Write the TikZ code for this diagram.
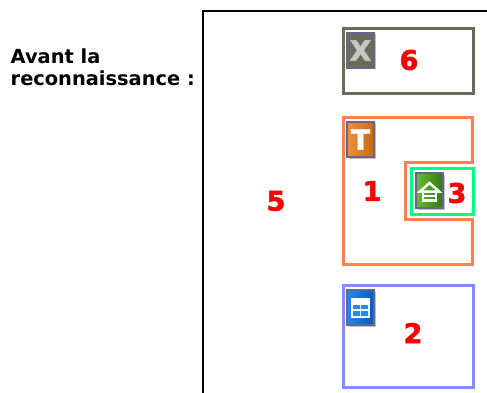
\documentclass[tikz,border=0pt]{standalone}
\usepackage{fontspec}
\setmainfont{DejaVu Sans}
\newfontfamily\grasfont[FakeBold=2]{DejaVu Sans Bold}
\usetikzlibrary{shadows}

\definecolor{cadre}{HTML}{6B6B5B}
\definecolor{corail}{HTML}{FF7F50}
\definecolor{printemps}{HTML}{00FF7F}
\definecolor{lavande}{HTML}{8888FF}
\definecolor{ardoise}{HTML}{66668C}
\definecolor{orangeA}{HTML}{EC9040}
\definecolor{orangeB}{HTML}{C86A14}
\definecolor{vertA}{HTML}{68BC30}
\definecolor{vertB}{HTML}{2F7A12}
\definecolor{bleuA}{HTML}{1E8CF0}
\definecolor{bleuB}{HTML}{0B58BC}

\tikzstyle{numero}=[text=red, font=\grasfont\fontsize{27}{27}\selectfont, inner sep=0pt]
\tikzstyle{zone}=[draw, line width=3pt, minimum width=130pt, inner sep=0pt, outer sep=0pt, anchor=north west]
\tikzstyle{icone}=[draw=ardoise, line width=1.5pt, minimum width=27pt, minimum height=35pt, inner sep=0pt, outer sep=0pt, anchor=north west, text=white, font=\grasfont\fontsize{28}{28}\selectfont, drop shadow={shadow xshift=1.5pt, shadow yshift=-1.5pt, fill=gray, opacity=0.5}]

\begin{document}
\begin{tikzpicture}[x=1pt, y=-1pt]
\useasboundingbox (0,0) rectangle (487,393);

% cadre de la page
\draw[line width=2pt] (487,11.5) -- (202.5,11.5) -- (202.5,393);

\node(titre)[anchor=north west, align=left, inner sep=0pt, font=\bfseries\fontsize{19.4}{21.2}\selectfont] at (10.5,49) {Avant la\\reconnaissance :};

% zones
\node(zone6)[zone, draw=cadre, minimum height=65pt] at (343.5,28.5) {};
\node(zone2)[zone, draw=lavande, minimum height=102pt] at (343.5,285.5) {};
\draw[corail, line width=3pt] (343.5,117.5) -- (472.5,117.5) -- (472.5,162.5) -- (405.5,162.5) -- (405.5,219.5) -- (472.5,219.5) -- (472.5,264.5) -- (343.5,264.5) -- cycle;
\node(zone3)[zone, draw=printemps, minimum width=62pt, minimum height=46pt] at (411.5,168.5) {};

% icones
\node(iconeX)[icone, text=white!55!gray, fill=cadre] at (347,33) {X};
\node(iconeT)[icone, left color=orangeA, right color=orangeB] at (347,122) {T};
\node(iconeH)[icone, left color=vertA, right color=vertB] at (416,173) {};
\node(iconeG)[icone, left color=bleuA, right color=bleuB] at (347,290) {};

% maison
\draw[white, line width=2.5pt, line join=miter] (420,191.5) -- (429.5,183) -- (439,191.5) -- cycle;
\draw[white, line width=2.5pt] (423,191.5) -- (423,200.5) -- (436,200.5) -- (436,191.5) (423,196) -- (436,196);

% tableau
\fill[white] (351,298) rectangle (370,318);
\fill[bleuA] (353,305) rectangle (360,309) (361,305) rectangle (368,309) (353,311) rectangle (360,316) (361,311) rectangle (368,316);

% numeros
\node(n6)[numero] at (409,60) {6};
\node(n1)[numero] at (372,191) {1};
\node(n3)[numero] at (457,193) {3};
\node(n2)[numero] at (413,333) {2};
\node(n5)[numero] at (276,201) {5};

\end{tikzpicture}
\end{document}
